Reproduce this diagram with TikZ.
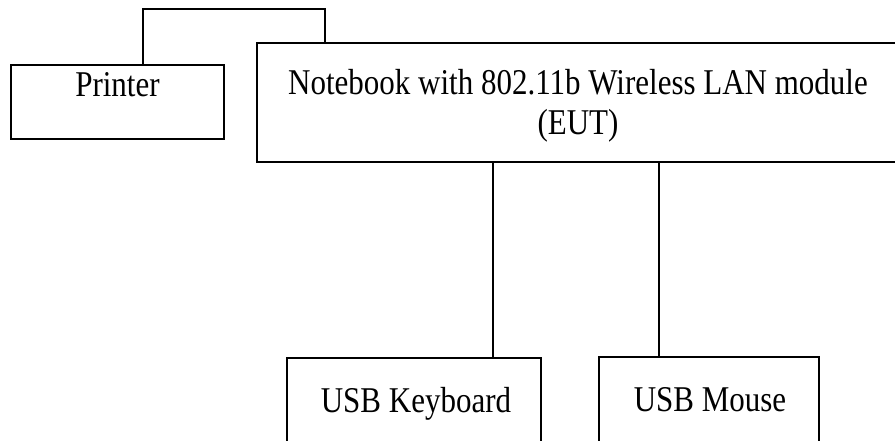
\documentclass[tikz,border=0pt]{standalone}
\usepackage{fontspec}
\setmainfont{Liberation Serif}
\newcommand{\tallt}[1]{\scalebox{1}[1.17]{#1}}
\tikzset{%
    unitbox/.style={rectangle, draw, line width=1.2pt, inner sep=0pt},
    boxtext/.style={anchor=base, inner sep=0pt,
        font=\fontsize{31}{40}\selectfont},
    wire/.style={line width=1.2pt}
}
\begin{document}
\begin{tikzpicture}[x=1pt, y=-1pt]
  \clip (0,0) rectangle (895,441);
  \node (printer) [unitbox, minimum width=213pt, minimum height=74pt] at (117.5, 102) {};
  \node (notebook) [unitbox, minimum width=642pt, minimum height=119pt] at (578, 102.5) {};
  \node (keyboard) [unitbox, minimum width=254pt, minimum height=122pt] at (414, 419) {};
  \node (mouse) [unitbox, minimum width=220pt, minimum height=123pt] at (709, 418.5) {};

  \node (printertxt) [boxtext] at (117.5, 97) {\tallt{Printer}};
  \node (notebooktxt) [boxtext] at (578, 95) {\tallt{Notebook with 802.11b Wireless LAN module}};
  \node (euttxt) [boxtext] at (578, 135) {\tallt{(EUT)}};
  \node (keyboardtxt) [boxtext] at (416, 412) {\tallt{USB Keyboard}};
  \node (mousetxt) [boxtext] at (710, 411) {\tallt{USB Mouse}};

  \coordinate (p1) at (143, 9);
  \coordinate (p2) at (325, 9);
  \coordinate (k1) at (493, 0);
  \coordinate (m1) at (659, 0);
  \draw [wire] (p1 |- printer.north) -- (p1) -- (p2) -- (p2 |- notebook.north);
  \draw [wire] (k1 |- notebook.south) -- (k1 |- keyboard.north);
  \draw [wire] (m1 |- notebook.south) -- (m1 |- mouse.north);
\end{tikzpicture}
\end{document}
